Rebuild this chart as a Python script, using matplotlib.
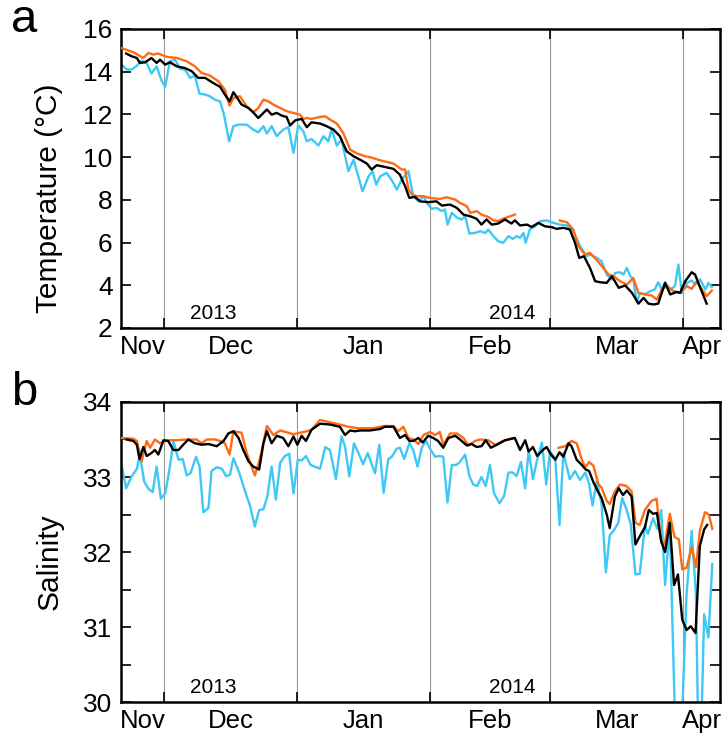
import numpy as np
import matplotlib
matplotlib.use("Agg")
import matplotlib.pyplot as plt

plt.rcParams['font.family'] = ['Liberation Sans', 'DejaVu Sans']

# days counted from 21 Nov 2013
month_len = [10, 31, 31, 28, 31]          # Nov (shown part), Dec, Jan, Feb, Mar
month_names = ['Nov', 'Dec', 'Jan', 'Feb', 'Mar', 'Apr']
x_end = 139.6

ORANGE = '#ff6a13'
CYAN = '#3ec8f5'

# ---- temperature ----
t_or_day = [0, 2.9, 5.2, 6.4, 7.5, 8.7, 10.6, 13, 15.3, 17.2, 18.8, 20.7, 22.7, 24.2, 25.3, 26.2,
            27.7, 29.3, 30.8, 32, 33.2, 34.3, 35.5, 37.1, 38.6, 40.2, 41.7, 42.5, 43.3, 44.4, 46.4,
            47.6, 48.7, 50.3, 51.8, 53.4, 55, 56.9, 58, 60.4, 63.5, 65.4, 66.2, 67, 67.8, 68.9,
            70.5, 72, 74.3, 75.9, 77.9, 79, 80.6, 81.4, 82.9, 84, 85.6, 86.8, 87.9, 89.1, 90.7,
            91.8, 97, 102.3, 103.9, 105.4, 106.6, 108.1, 109.3, 110.9, 112.4, 113.6, 114.8, 116.3,
            117.9, 119.4, 120.6, 122.1, 123.7, 124.9, 126, 127.2, 128.8, 130.3, 131.9, 133, 134.2,
            135.4, 136.5, 137.7]
t_or = [15.11, 14.91, 14.64, 14.88, 14.8, 14.85, 14.7, 14.64, 14.49, 14.25, 13.94, 13.82, 13.55,
        13.16, 12.41, 12.77, 12.85, 12.38, 12.1, 12.3, 12.69, 12.61, 12.46, 12.3, 12.15, 12.07,
        11.99, 11.79, 11.83, 11.79, 11.88, 11.91, 11.76, 11.57, 11.13, 10.35, 10.17, 10.04, 10.0,
        9.85, 9.7, 9.42, 9.42, 8.48, 8.25, 8.17, 8.17, 8.09, 8.04, 8.12, 8.01, 7.86, 7.7, 7.39,
        7.47, 7.31, 7.2, 7.04, 7.0, 7.12, 7.23, 7.31, np.nan, 7.03, 6.95, 6.61, 5.83, 5.44, 5.52,
        5.17, 4.81, 4.5, 4.42, 4.19, 4.03, 4.34, 3.64, 3.57, 3.52, 3.33, 3.8, 3.96, 3.72, 3.64,
        3.96, 3.83, 4.19, 3.8, 3.49, 3.75]

t_bk_day = [1.2, 2.5, 3.7, 4.4, 5.6, 7.1, 8.3, 9.1, 10.3, 11.4, 13, 14.9, 16.5, 18, 19.6, 21.5,
            23.1, 24.2, 25.3, 26.2, 27.1, 28.1, 29.7, 30.8, 32, 33.2, 34, 35.1, 36.3, 37.5, 38.6,
            39.4, 40.6, 42.1, 43.3, 44.4, 46.4, 47.9, 49.5, 51, 52.6, 54.2, 55.7, 57.3, 58.4, 59.6,
            61.5, 63.5, 65, 66.2, 67.2, 68.5, 69.7, 71.6, 73.5, 74.8, 76.7, 78.3, 79.8, 81.4, 82.9,
            84, 85.2, 86.4, 87.9, 89.5, 91, 91.8, 93, 94.6, 95.7, 97.3, 98.8, 100.4, 101.5, 103.1,
            104.6, 105.8, 106.8, 107.9, 109.3, 110.5, 111.7, 113.2, 114.4, 116, 117.5, 119.1,
            120.6, 121.8, 122.9, 124.1, 125.2, 126.8, 128, 129.5, 130.3, 131.5, 133, 133.8, 135,
            136.5]
t_bk = [14.85, 14.72, 14.64, 14.41, 14.44, 14.64, 14.41, 14.56, 14.33, 14.44, 14.25, 14.17, 14.02,
        13.71, 13.71, 13.47, 13.29, 12.93, 12.61, 13.04, 12.77, 12.46, 12.3, 12.1, 11.83, 12.07,
        12.23, 11.99, 12.07, 11.94, 11.88, 11.48, 11.72, 11.79, 11.4, 11.63, 11.57, 11.45, 11.29,
        10.98, 10.27, 10.04, 9.88, 9.7, 9.42, 9.62, 9.54, 9.45, 9.18, 8.64, 8.09, 8.14, 7.93, 7.89,
        7.93, 7.73, 7.78, 7.62, 7.31, 7.23, 7.11, 6.84, 7.08, 6.84, 6.89, 7.08, 6.89, 7.04, 6.8,
        6.84, 6.73, 6.92, 6.76, 6.72, 6.64, 6.69, 6.61, 5.99, 5.28, 5.36, 4.81, 4.19, 4.14, 4.11,
        4.42, 3.88, 3.99, 3.64, 3.14, 3.41, 3.14, 3.1, 3.14, 4.11, 3.57, 3.69, 3.64, 4.19, 4.61,
        4.5, 3.88, 3.14]

t_cy_day = [0.2, 1.3, 2.5, 3.7, 4.8, 6, 7.1, 8.3, 9.5, 10.3, 11.4, 12.6, 13.8, 14.9, 16.1, 17.2,
            18.3, 19.6, 20.7, 21.9, 23.1, 24, 25.2, 26.2, 27.4, 29.3, 30.8, 32, 33.2, 34, 35.1,
            36.3, 37.8, 39, 40.2, 41.3, 42.5, 43.3, 44.4, 46, 47.2, 48.3, 49.1, 50.3, 51.4, 53,
            54.2, 56.3, 57.7, 58.6, 59.5, 60.4, 61.9, 63, 64.3, 65.4, 67, 68.1, 69.3, 70.5, 71.3,
            72.4, 73.5, 74.8, 75.5, 76.1, 77.1, 78.3, 79.4, 80.2, 81.2, 82.5, 83.7, 84.9, 85.6,
            86.8, 87.9, 89.1, 90.3, 91.3, 92.2, 93, 93.8, 94.3, 95.3, 96.5, 97.7, 99.2, 100.8,
            102.3, 103.9, 105.4, 107, 108.5, 109.3, 110.9, 112, 113.2, 114.4, 115.2, 116.3, 117.1,
            117.9, 118.7, 119.4, 120.2, 121, 122.1, 123.3, 124.4, 125.2, 126, 126.8, 128, 129.1,
            129.9, 130.7, 131.9, 133, 133.8, 135, 136.2, 136.9, 137.7]
t_cy = [14.33, 14.1, 14.1, 14.28, 14.52, 14.41, 13.91, 14.25, 13.55, 13.29, 14.49, 14.56, 14.13,
        14.1, 13.71, 13.82, 12.97, 12.93, 12.85, 12.69, 12.61, 11.99, 10.74, 11.45, 11.52, 11.52,
        11.29, 11.16, 11.45, 11.1, 11.45, 10.98, 11.29, 11.41, 10.2, 11.48, 11.21, 10.74, 10.85,
        10.54, 10.98, 10.74, 11.29, 10.54, 10.82, 9.34, 9.88, 8.4, 9.1, 9.34, 8.71, 9.1, 9.26,
        8.95, 8.48, 8.95, 9.34, 8.17, 7.93, 8.17, 7.86, 7.58, 7.62, 7.47, 7.55, 6.84, 7.39, 7.16,
        7.08, 7.23, 6.42, 6.45, 6.53, 6.45, 6.61, 6.3, 6.06, 5.99, 6.3, 6.17, 6.3, 6.22, 6.45,
        5.99, 6.61, 6.76, 7.0, 7.04, 6.92, 6.84, 6.8, 6.53, 5.83, 5.36, 5.44, 5.28, 5.12, 4.5,
        4.27, 4.58, 4.61, 4.5, 4.81, 4.42, 4.27, 3.21, 3.64, 3.57, 3.72, 3.8, 4.14, 3.8, 4.14,
        3.8, 3.96, 4.97, 3.64, 4.11, 4.22, 4.03, 4.27, 3.8, 4.11, 3.92]

# ---- salinity ----
s_or_day = [0.2, 2.9, 3.7, 4.8, 6, 6.8, 7.9, 9.1, 10.6, 13, 15.3, 17.6, 18.8, 20, 21.9, 23.1,
            24.2, 25.3, 26.2, 28.1, 29.3, 31.2, 32.4, 34, 35.5, 37.1, 39, 40.2, 41.7, 43.3, 44.4,
            46.4, 48.7, 51, 53, 55.3, 58.8, 61.2, 63.5, 64.6, 65.8, 67, 68.1, 69.3, 70.5, 72, 73.2,
            74.3, 75.1, 76.7, 78.3, 79.8, 81, 82.5, 83.7, 85.6, 87.2, 89.1, 91.4, 97, 102.0,
            103.5, 105, 106.2, 107.4, 108.2, 109.1, 110.1, 111.3, 112, 113.2, 113.9, 115.1, 116.3,
            117.8, 119, 119.9, 120.9, 122.1, 123.6, 124.8, 125.9, 126.7, 127.9, 129, 130, 130.8,
            131.8, 133, 134, 134.9, 136.1, 137, 137.8]
s_or = [33.52, 33.51, 33.48, 33.21, 33.48, 33.39, 33.5, 33.45, 33.49, 33.49, 33.5, 33.5, 33.45,
        33.5, 33.5, 33.48, 33.45, 33.3, 33.61, 33.59, 33.32, 33.02, 33.25, 33.68, 33.56, 33.62,
        33.59, 33.57, 33.59, 33.61, 33.63, 33.76, 33.73, 33.7, 33.67, 33.65, 33.65, 33.68, 33.68,
        33.61, 33.67, 33.52, 33.5, 33.44, 33.56, 33.6, 33.56, 33.6, 33.43, 33.58, 33.58, 33.52,
        33.42, 33.48, 33.5, 33.49, 33.43, 33.48, 33.52, np.nan, 33.39,
        33.41, 33.48, 33.45, 33.23, 33.13, 33.2, 33.15, 32.9, 32.86, 32.68, 32.64, 32.81, 32.9,
        32.88, 32.81, 32.39, 32.36, 32.56, 32.68, 32.71, 32.14, 32.1, 32.51, 32.2, 32.17, 31.77,
        31.79, 32.06, 31.8, 32.28, 32.53, 32.5, 32.31]

s_bk_day = [1.3, 2.9, 3.7, 4.3, 5.2, 6, 7.1, 7.9, 8.7, 9.9, 11, 12.2, 13.4, 14.5, 15.7, 17.2, 18.8,
            20.4, 22.3, 23.9, 25, 26.2, 27.4, 28.5, 29.7, 30.8, 32.2, 33.2, 34, 35.1, 36.3, 37.8,
            39, 40.2, 41.1, 42.1, 43.1, 44.4, 46.4, 48.7, 51, 52.2, 53.4, 54.5, 55.7, 58, 60.4,
            61.5, 63.5, 65, 66.2, 67.2, 68.1, 69.3, 70.3, 71.6, 72.8, 73.9, 75.1, 76.3, 77.9, 79,
            80.6, 81.7, 82.9, 84, 85, 86.2, 87.6, 89.5, 91.8, 93, 94.2, 95, 96, 97, 98.3, 99.2,
            100.2, 101.2, 102.2, 103.1, 104.3, 105, 106.2, 107.4, 108.3, 109.1, 110.1, 111.3, 112,
            113.2, 113.9, 115.1, 116, 117, 117.9, 119, 119.9, 120.9, 122.1, 123, 124, 124.9, 125.9,
            126.8, 127.9, 128.9, 129.8, 130.8, 131.8, 132.8, 133.9, 134.9, 135.9, 136.6]
s_bk = [33.5, 33.48, 33.43, 33.24, 33.4, 33.28, 33.32, 33.36, 33.3, 33.49, 33.48, 33.36, 33.36,
        33.43, 33.5, 33.45, 33.43, 33.44, 33.41, 33.48, 33.58, 33.61, 33.52, 33.36, 33.21, 33.14,
        33.1, 33.45, 33.61, 33.45, 33.55, 33.52, 33.41, 33.54, 33.43, 33.55, 33.48, 33.63, 33.71,
        33.7, 33.67, 33.56, 33.62, 33.61, 33.62, 33.62, 33.64, 33.67, 33.67, 33.52, 33.56, 33.48,
        33.48, 33.52, 33.46, 33.55, 33.52, 33.48, 33.39, 33.52, 33.55, 33.5, 33.42, 33.44, 33.4,
        33.41, 33.49, 33.39, 33.43, 33.49, 33.52, 33.36, 33.49, 33.34, 33.4, 33.28, 33.36, 33.4,
        33.3, 33.23, 33.33, 33.27, 33.45, 33.41, 33.23, 33.16, 33.1, 33.08, 32.93, 32.79, 32.72,
        32.5, 32.32, 32.74, 32.85, 32.76, 32.82, 32.74, 32.1, 32.21, 32.33, 32.56, 32.51, 32.52,
        32.14, 32.0, 32.39, 31.56, 31.7, 31.1, 30.96, 31.01, 30.92, 32.08, 32.3, 32.36]

s_cy_day = [0.2, 1.2, 2.5, 3.7, 4.4, 5.4, 6.4, 7.4, 8.3, 9.3, 10.3, 11.4, 12.2, 13.4, 14.4, 15.3,
            16.2, 17.5, 18.3, 19.2, 20.4, 21.1, 22.3, 23.5, 24.5, 25.4, 26.2, 27.6, 28.9, 30.1,
            31.2, 32.2, 33.2, 34.1, 35.1, 36.1, 37.1, 38.2, 39.2, 40.2, 41.2, 42.1, 43.1, 44.2,
            46.4, 47.6, 48.7, 50.1, 51.4, 52.2, 53.2, 54.3, 55.5, 56.4, 57.5, 59.2, 60.2, 61.2,
            62.3, 63.1, 64.3, 65, 66, 67.2, 68.1, 69.1, 70.1, 71.1, 72.2, 73.2, 74.2, 75.1, 76.1,
            77.1, 78.1, 79, 80.2, 81.2, 82.1, 83, 84, 85, 86, 86.9, 88.2, 89.3, 90.3, 91.3, 92.2,
            93.2, 94.2, 95, 96, 96.9, 98.1, 99.1, 100, 101.2, 102.2, 103.1, 104.6, 105.8, 107,
            108.2, 109.1, 109.9, 110.9, 112, 113, 113.9, 115.1, 115.9, 116.8, 117.8, 118.8, 119.9,
            120.9, 122.1, 122.8, 124, 125, 125.9, 126.8, 127.9, 129.8, 131.8, 133, 134, 134.8,
            135.9, 136.9, 137.8]
s_cy = [33.14, 32.85, 33.01, 33.11, 33.3, 32.94, 32.84, 32.8, 33.14, 32.71, 32.78, 33.14, 33.48,
        33.23, 33.24, 33.02, 33.05, 33.27, 33.14, 32.53, 32.59, 33.08, 33.13, 33.11, 33.01, 33.03,
        33.25, 33.05, 32.81, 32.61, 32.34, 32.56, 32.57, 32.74, 33.14, 32.7, 33.19, 33.28, 33.31,
        32.78, 33.23, 33.22, 33.28, 33.16, 33.11, 33.4, 33.36, 32.97, 33.54, 33.41, 33.01, 33.45,
        33.3, 33.17, 33.32, 33.05, 33.43, 32.79, 33.24, 33.27, 33.38, 33.39, 33.24, 33.45, 33.36,
        33.14, 33.39, 33.48, 33.36, 33.27, 33.28, 33.27, 32.66, 33.16, 33.16, 33.2, 33.3, 33.01,
        32.9, 32.88, 33.0, 32.88, 33.16, 32.79, 32.65, 32.75, 33.06, 33.06, 33.01, 33.2, 32.85,
        33.36, 32.97, 33.21, 33.46, 32.9, 33.34, 33.25, 32.36, 33.32, 32.97, 33.08, 32.96, 33.06,
        32.91, 32.62, 32.95, 32.64, 31.73, 32.22, 32.31, 32.39, 32.72, 32.57, 32.37, 31.7, 31.71,
        32.35, 32.24, 32.45, 32.31, 32.56, 31.56, 32.37, 28.3, 31.43, 32.28, 31.43, 28.6, 31.17,
        30.86, 31.84]

bounds = np.cumsum(month_len)
edges = np.concatenate([[0], bounds, [x_end]])
centers = (edges[:-1] + edges[1:]) / 2

fig = plt.figure(figsize=(7.25, 7.41), dpi=100)
ax_a = fig.add_axes([0.1669, 0.5574, 0.8262, 0.4035])
ax_b = fig.add_axes([0.1669, 0.0526, 0.8262, 0.4049])

panels = [
    (ax_a, (t_or_day, t_or), (t_cy_day, t_cy), (t_bk_day, t_bk), (2, 16),
     'Temperature (°C)', 0.435, 'a'),
    (ax_b, (s_or_day, s_or), (s_cy_day, s_cy), (s_bk_day, s_bk), (30, 34),
     'Salinity', 0.467, 'b'),
]

for ax, orng, cyan, blk, ylim, ylab, ylab_y, letter in panels:
    for b in bounds:
        ax.axvline(b, color='#999999', lw=0.8, zorder=1)
    ax.plot(*cyan, color=CYAN, lw=1.7, zorder=2)
    ax.plot(*orng, color=ORANGE, lw=1.7, zorder=3)
    ax.plot(*blk, color='black', lw=1.7, zorder=4)
    ax.set_xlim(0, x_end)
    ax.set_ylim(*ylim)
    ax.set_xticks(bounds)
    ax.set_xticklabels([])
    ax.set_xticks(centers, minor=True)
    ax.set_xticklabels(month_names, minor=True, fontsize=18.5)
    ax.tick_params(axis='x', which='major', direction='in', length=7, width=1.2,
                   top=True, bottom=True)
    ax.tick_params(axis='x', which='minor', length=0, pad=5)
    ax.tick_params(axis='y', which='both', direction='in', length=7, width=1.2,
                   left=True, right=True, labelsize=19, pad=6)
    for sp in ax.spines.values():
        sp.set_linewidth(1.8)
    ax.set_ylabel(ylab, fontsize=21.5, va='center')
    ax.yaxis.set_label_coords(-0.12, ylab_y)
    ax.text(21.4, 0.05, '2013', transform=ax.get_xaxis_transform(), ha='center',
            va='center', fontsize=15)
    ax.text(91.1, 0.05, '2014', transform=ax.get_xaxis_transform(), ha='center',
            va='center', fontsize=15)
    ax.text(-0.183, 1.03, letter, transform=ax.transAxes, ha='left', va='center',
            fontsize=34)

ax_a.set_yticks(np.arange(2, 17, 2))
ax_b.set_yticks(np.arange(30, 34.1, 1))
ax_b.set_yticks(np.arange(30.5, 34, 1), minor=True)

fig.savefig('out.png', dpi=100)
